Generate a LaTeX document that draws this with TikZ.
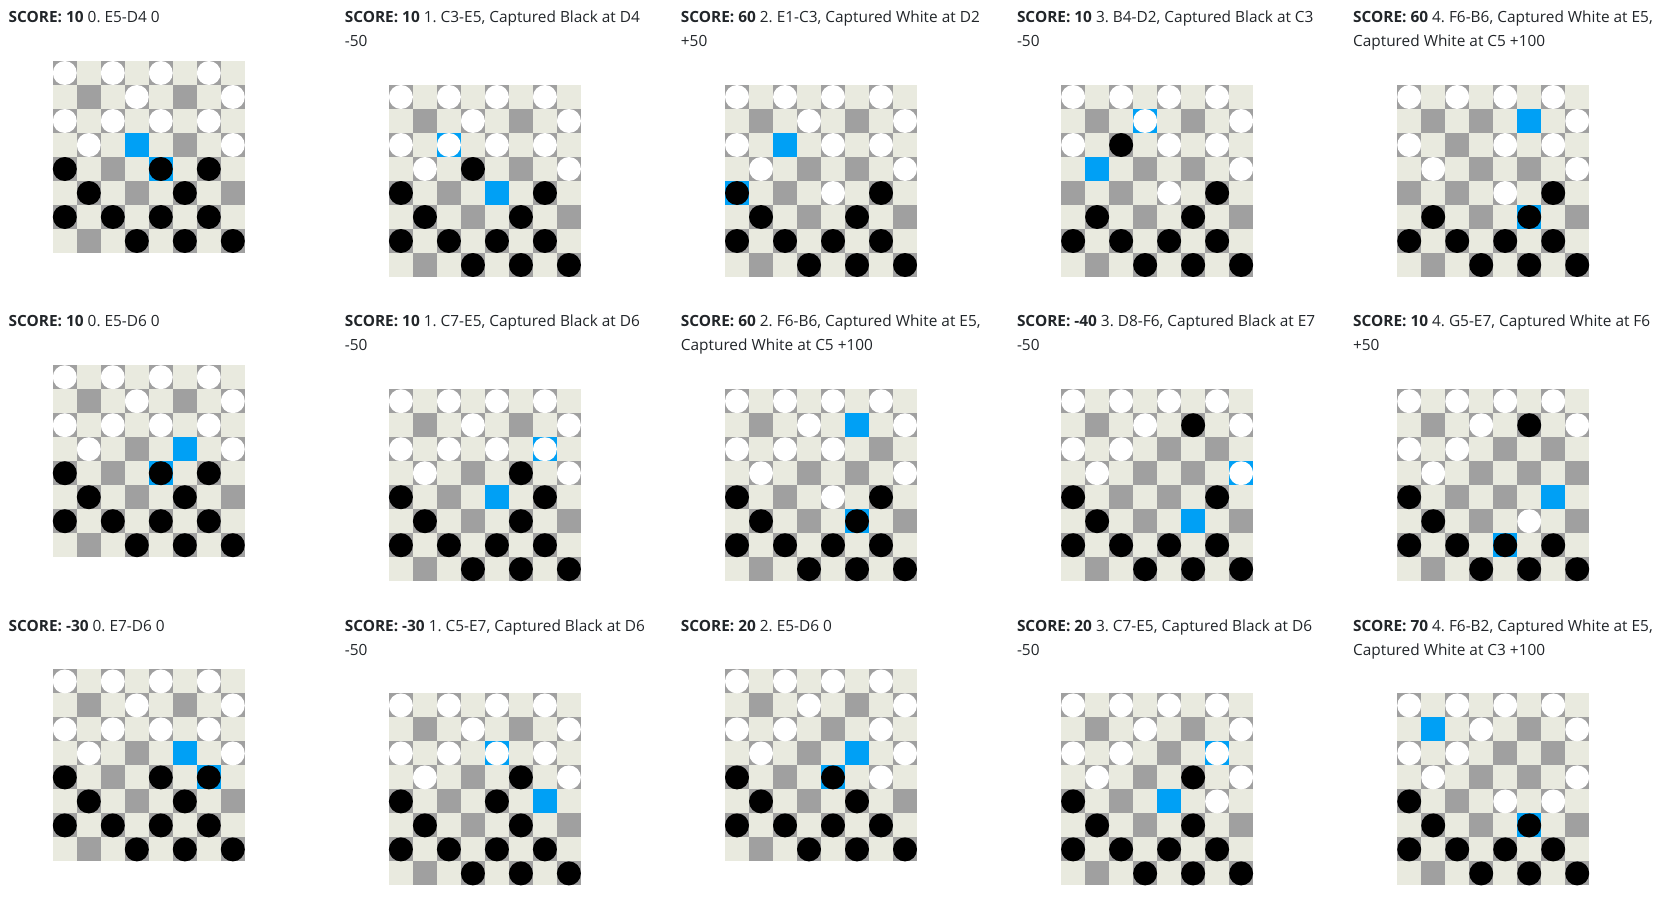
\documentclass[tikz,border=0pt]{standalone}
\usepackage{fontspec}
\setmainfont{Open Sans}
\frenchspacing
\definecolor{lightsq}{RGB}{233,234,223}
\definecolor{darksq}{RGB}{160,160,160}
\definecolor{bluesq}{RGB}{0,160,245}
\definecolor{txt}{RGB}{33,37,41}
\tikzset{
  lbl/.style={anchor=base west,inner sep=0pt,text=txt,font=\fontsize{15.4}{24}\selectfont\frenchspacing},
}
\newcommand\drawboard[5]{%
 \begin{scope}[shift={(#1,-#2)}]
  \fill[lightsq] (0,0) rectangle (192,-192);
  \foreach \r in {0,...,7}{\foreach \k in {0,...,3}{%
     \pgfmathtruncatemacro\cc{2*\k+mod(\r,2)}%
     \fill[darksq] (24*\cc,-24*\r) rectangle ++(24,-24);}}
  \foreach \r/\c in {#3}{\fill[bluesq] (24*\c,-24*\r) rectangle ++(24,-24);}
  \foreach \r/\c in {#4}{\fill[white] (24*\c+12,-24*\r-12) circle (12pt);}
  \foreach \r/\c in {#5}{\fill[black] (24*\c+12,-24*\r-12) circle (12pt);}
 \end{scope}}
\newcommand\SC[1]{\textbf{SCORE: #1}}
\begin{document}
\begin{tikzpicture}[x=1pt,y=1pt]
\useasboundingbox (0,0) rectangle (1673,-902);
% ---------- Row 1 ----------
\node[lbl] (t11) at (8.5,-22.7) {\SC{10} 0. E5-D4 0};
\drawboard{52.8}{61}{3/3,4/4}
 {0/0,0/2,0/4,0/6,1/3,1/7,2/0,2/2,2/4,2/6,3/1,3/7}
 {4/0,4/4,4/6,5/1,5/5,6/0,6/2,6/4,6/6,7/3,7/5,7/7}
\node[lbl] (t12) at (344.6,-22.7) {\SC{10} 1. C3-E5, Captured Black at D4};
\node[lbl] (t12b) at (344.6,-46.7) {-50};
\drawboard{388.9}{85}{2/2,4/4}
 {0/0,0/2,0/4,0/6,1/3,1/7,2/0,2/2,2/4,2/6,3/1,3/7}
 {3/3,4/0,4/6,5/1,5/5,6/0,6/2,6/4,6/6,7/3,7/5,7/7}
\node[lbl] (t13) at (680.7,-22.7) {\SC{60} 2. E1-C3, Captured White at D2};
\node[lbl] (t13b) at (680.7,-46.7) {+50};
\drawboard{725.0}{85}{2/2,4/0}
 {0/0,0/2,0/4,0/6,1/3,1/7,2/0,2/4,2/6,3/1,3/7,4/4}
 {4/0,4/6,5/1,5/5,6/0,6/2,6/4,6/6,7/3,7/5,7/7}
\node[lbl] (t14) at (1016.8,-22.7) {\SC{10} 3. B4-D2, Captured Black at C3};
\node[lbl] (t14b) at (1016.8,-46.7) {-50};
\drawboard{1061.1}{85}{1/3,3/1}
 {0/0,0/2,0/4,0/6,1/3,1/7,2/0,2/4,2/6,3/7,4/4}
 {2/2,4/6,5/1,5/5,6/0,6/2,6/4,6/6,7/3,7/5,7/7}
\node[lbl] (t15) at (1352.9,-22.7) {\SC{60} 4. F6-B6, Captured White at E5,};
\node[lbl] (t15b) at (1352.9,-46.7) {Captured White at C5 +100};
\drawboard{1397.2}{85}{1/5,5/5}
 {0/0,0/2,0/4,0/6,1/7,2/0,2/4,2/6,3/1,3/7,4/4}
 {4/6,5/1,5/5,6/0,6/2,6/4,6/6,7/3,7/5,7/7}
% ---------- Row 2 ----------
\node[lbl] (t21) at (8.5,-326.9) {\SC{10} 0. E5-D6 0};
\drawboard{52.8}{365.2}{3/5,4/4}
 {0/0,0/2,0/4,0/6,1/3,1/7,2/0,2/2,2/4,2/6,3/1,3/7}
 {4/0,4/4,4/6,5/1,5/5,6/0,6/2,6/4,6/6,7/3,7/5,7/7}
\node[lbl] (t22) at (344.6,-326.9) {\SC{10} 1. C7-E5, Captured Black at D6};
\node[lbl] (t22b) at (344.6,-350.9) {-50};
\drawboard{388.9}{389.2}{2/6,4/4}
 {0/0,0/2,0/4,0/6,1/3,1/7,2/0,2/2,2/4,2/6,3/1,3/7}
 {3/5,4/0,4/6,5/1,5/5,6/0,6/2,6/4,6/6,7/3,7/5,7/7}
\node[lbl] (t23) at (680.7,-326.9) {\SC{60} 2. F6-B6, Captured White at E5,};
\node[lbl] (t23b) at (680.7,-350.9) {Captured White at C5 +100};
\drawboard{725.0}{389.2}{1/5,5/5}
 {0/0,0/2,0/4,0/6,1/3,1/7,2/0,2/2,2/4,3/1,3/7,4/4}
 {4/0,4/6,5/1,5/5,6/0,6/2,6/4,6/6,7/3,7/5,7/7}
\node[lbl] (t24) at (1016.8,-326.9) {\SC{-40} 3. D8-F6, Captured Black at E7};
\node[lbl] (t24b) at (1016.8,-350.9) {-50};
\drawboard{1061.1}{389.2}{3/7,5/5}
 {0/0,0/2,0/4,0/6,1/3,1/7,2/0,2/2,3/1,3/7}
 {1/5,4/0,4/6,5/1,6/0,6/2,6/4,6/6,7/3,7/5,7/7}
\node[lbl] (t25) at (1352.9,-326.9) {\SC{10} 4. G5-E7, Captured White at F6};
\node[lbl] (t25b) at (1352.9,-350.9) {+50};
\drawboard{1397.2}{389.2}{4/6,6/4}
 {0/0,0/2,0/4,0/6,1/3,1/7,2/0,2/2,3/1,5/5}
 {1/5,4/0,5/1,6/0,6/2,6/4,6/6,7/3,7/5,7/7}
% ---------- Row 3 ----------
\node[lbl] (t31) at (8.5,-631.1) {\SC{-30} 0. E7-D6 0};
\drawboard{52.8}{669.4}{3/5,4/6}
 {0/0,0/2,0/4,0/6,1/3,1/7,2/0,2/2,2/4,2/6,3/1,3/7}
 {4/0,4/4,4/6,5/1,5/5,6/0,6/2,6/4,6/6,7/3,7/5,7/7}
\node[lbl] (t32) at (344.6,-631.1) {\SC{-30} 1. C5-E7, Captured Black at D6};
\node[lbl] (t32b) at (344.6,-655.1) {-50};
\drawboard{388.9}{693.4}{2/4,4/6}
 {0/0,0/2,0/4,0/6,1/3,1/7,2/0,2/2,2/4,2/6,3/1,3/7}
 {3/5,4/0,4/4,5/1,5/5,6/0,6/2,6/4,6/6,7/3,7/5,7/7}
\node[lbl] (t33) at (680.7,-631.1) {\SC{20} 2. E5-D6 0};
\drawboard{725.0}{669.4}{3/5,4/4}
 {0/0,0/2,0/4,0/6,1/3,1/7,2/0,2/2,2/6,3/1,3/7,4/6}
 {4/0,4/4,5/1,5/5,6/0,6/2,6/4,6/6,7/3,7/5,7/7}
\node[lbl] (t34) at (1016.8,-631.1) {\SC{20} 3. C7-E5, Captured Black at D6};
\node[lbl] (t34b) at (1016.8,-655.1) {-50};
\drawboard{1061.1}{693.4}{2/6,4/4}
 {0/0,0/2,0/4,0/6,1/3,1/7,2/0,2/2,2/6,3/1,3/7,4/6}
 {3/5,4/0,5/1,5/5,6/0,6/2,6/4,6/6,7/3,7/5,7/7}
\node[lbl] (t35) at (1352.9,-631.1) {\SC{70} 4. F6-B2, Captured White at E5,};
\node[lbl] (t35b) at (1352.9,-655.1) {Captured White at C3 +100};
\drawboard{1397.2}{693.4}{1/1,5/5}
 {0/0,0/2,0/4,0/6,1/3,1/7,2/0,2/2,3/1,3/7,4/4,4/6}
 {4/0,5/1,5/5,6/0,6/2,6/4,6/6,7/3,7/5,7/7}
\end{tikzpicture}
\end{document}
